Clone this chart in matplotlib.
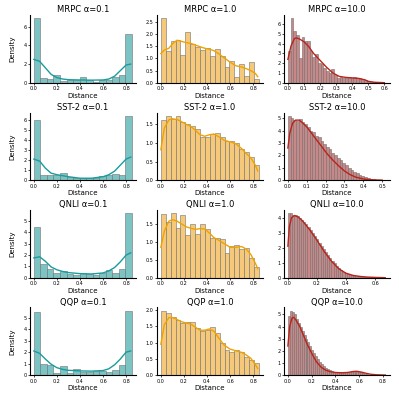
import numpy as np
import matplotlib.pyplot as plt

datasets = ['MRPC', 'SST-2', 'QNLI', 'QQP']
alphas = ['0.1', '1.0', '10.0']

# histogram heights (density), bins start at 0 and end at x_max
mrpc_01 = [6.9, 0.5, 0.4, 0.8, 0.2, 0.3, 0.3, 0.6, 0.3, 0.1, 0.3, 0.3, 0.6, 0.8, 5.2]
sst2_01 = [6.0, 0.5, 0.55, 0.55, 0.75, 0.3, 0.25, 0.2, 0.2, 0.25, 0.45, 0.5, 0.6, 0.55, 6.4]
qnli_01 = [4.5, 1.2, 0.8, 0.45, 0.55, 0.35, 0.25, 0.4, 0.3, 0.25, 0.4, 0.7, 0.45, 0.75, 5.7]
qqp_01 = [5.5, 0.95, 0.85, 0.2, 0.8, 0.2, 0.5, 0.3, 0.3, 0.4, 0.4, 0.3, 0.45, 0.85, 5.6]

mrpc_1 = [2.65, 1.3, 1.7, 1.75, 1.15, 2.07, 1.58, 1.45, 1.33, 1.42,
          1.1, 1.37, 1.1, 0.65, 0.88, 0.25, 0.78, 0.28, 0.85, 0.15]
sst2_1 = [1.63, 1.73, 1.65, 1.72, 1.55, 1.5, 1.45, 1.38, 1.15, 1.17,
          1.25, 1.28, 1.15, 1.05, 1.05, 1.0, 0.85, 0.75, 0.62, 0.4]
qnli_1 = [1.77, 1.55, 1.8, 1.38, 1.75, 1.2, 1.5, 1.22, 1.5, 1.35,
          1.12, 1.1, 1.08, 0.7, 0.88, 0.92, 0.8, 0.82, 0.55, 0.3]
qqp_1 = [1.98, 1.9, 1.8, 1.68, 1.6, 1.62, 1.62, 1.45, 1.35, 1.38,
         1.48, 1.28, 0.98, 0.78, 0.7, 0.78, 0.72, 0.55, 0.48, 0.38]

mrpc_10 = [3.3, 6.6, 5.3, 4.9, 2.55, 4.7, 4.3, 4.3, 3.3, 2.6, 2.95, 2.0, 1.9, 1.55,
           1.25, 1.0, 1.4, 0.75, 0.5, 0.6, 0.45, 0.5, 0.55, 0.5, 0.55, 0.45, 0.5,
           0.35, 0.3, 0.15, 0.08, 0.05, 0.03, 0.02, 0.02, 0.02]
sst2_10 = [5.2, 5.05, 4.85, 4.8, 4.95, 4.7, 4.5, 4.3, 4.0, 3.9, 3.6, 3.45, 3.2, 2.95,
           2.7, 2.5, 2.2, 2.0, 1.8, 1.6, 1.4, 1.2, 1.0, 0.85, 0.7, 0.55, 0.45, 0.35,
           0.25, 0.18, 0.12, 0.08, 0.05, 0.03, 0.02, 0.01]
qnli_10 = [4.3, 4.3, 4.2, 4.15, 4.1, 4.0, 3.85, 3.7, 3.55, 3.35, 3.15, 2.95, 2.75,
           2.55, 2.3, 2.1, 1.9, 1.7, 1.5, 1.3, 1.1, 0.95, 0.8, 0.65, 0.5, 0.4, 0.32,
           0.25, 0.2, 0.15, 0.12, 0.1, 0.08, 0.06, 0.05, 0.04, 0.03, 0.02, 0.02,
           0.01, 0.01, 0.01, 0.01, 0.01, 0.01]
qqp_10 = [4.9, 5.3, 5.2, 5.05, 4.6, 4.3, 4.0, 3.6, 3.3, 3.0, 2.7, 2.4, 2.1, 1.8, 1.55,
          1.3, 1.1, 0.9, 0.75, 0.6, 0.5, 0.4, 0.35, 0.3, 0.25, 0.25, 0.22, 0.2, 0.2,
          0.22, 0.25, 0.28, 0.32, 0.36, 0.38, 0.35, 0.3, 0.22, 0.15, 0.1, 0.07, 0.05,
          0.04, 0.03, 0.03, 0.02, 0.02, 0.01, 0.01, 0.01]

x_max = {'0.1': 0.85, '1.0': 0.85}
x_max_10 = [0.61, 0.52, 0.675, 0.825]

# kde curves
kde_01_x = [0.0, 0.05, 0.1, 0.15, 0.2, 0.25, 0.3, 0.4, 0.5, 0.6, 0.65, 0.7, 0.75, 0.8, 0.84]
mrpc_01_kde = [2.5, 2.3, 1.6, 0.9, 0.55, 0.4, 0.33, 0.3, 0.28, 0.3, 0.4, 0.7, 1.3, 1.9, 2.0]
sst2_01_kde = [2.1, 1.9, 1.2, 0.7, 0.55, 0.45, 0.35, 0.2, 0.2, 0.35, 0.55, 0.9, 1.5, 2.1, 2.3]
qnli_01_kde = [1.75, 1.85, 1.45, 0.95, 0.7, 0.55, 0.45, 0.36, 0.33, 0.42, 0.6, 0.9, 1.4, 2.0, 2.2]
qqp_01_kde = [2.1, 1.9, 1.4, 0.95, 0.65, 0.5, 0.42, 0.37, 0.35, 0.4, 0.55, 0.9, 1.4, 2.0, 2.1]

kde_1_x = [0.0, 0.03, 0.07, 0.1, 0.14, 0.18, 0.22, 0.26, 0.3, 0.34, 0.38, 0.42,
           0.46, 0.5, 0.55, 0.6, 0.65, 0.7, 0.74, 0.78, 0.82, 0.84]
mrpc_1_kde = [1.2, 1.35, 1.42, 1.6, 1.75, 1.7, 1.65, 1.62, 1.55, 1.48, 1.42, 1.38,
              1.32, 1.2, 1.02, 0.85, 0.7, 0.65, 0.58, 0.5, 0.38, 0.25]
sst2_1_kde = [0.82, 1.4, 1.62, 1.65, 1.63, 1.57, 1.5, 1.44, 1.34, 1.22, 1.18, 1.22,
              1.24, 1.17, 1.07, 1.03, 0.98, 0.85, 0.72, 0.6, 0.4, 0.25]
qnli_1_kde = [0.85, 1.3, 1.58, 1.62, 1.58, 1.5, 1.42, 1.38, 1.35, 1.37, 1.36, 1.25,
              1.12, 1.05, 0.95, 0.85, 0.85, 0.87, 0.8, 0.65, 0.4, 0.25]
qqp_1_kde = [0.95, 1.55, 1.77, 1.77, 1.71, 1.64, 1.6, 1.57, 1.47, 1.38, 1.38, 1.42,
             1.35, 1.15, 0.92, 0.8, 0.75, 0.7, 0.62, 0.52, 0.32, 0.2]

mrpc_10_kde_x = [0.0, 0.02, 0.04, 0.05, 0.07, 0.1, 0.13, 0.16, 0.2, 0.24, 0.28,
                 0.32, 0.36, 0.4, 0.44, 0.48, 0.5, 0.54, 0.6]
mrpc_10_kde = [2.4, 3.8, 4.5, 4.6, 4.5, 4.2, 3.7, 3.0, 2.3, 1.6, 1.0, 0.65, 0.55,
               0.5, 0.45, 0.3, 0.15, 0.05, 0.01]
sst2_10_kde_x = [0.0, 0.01, 0.025, 0.04, 0.06, 0.08, 0.1, 0.12, 0.15, 0.18, 0.21,
                 0.24, 0.27, 0.3, 0.33, 0.36, 0.4, 0.45, 0.5]
sst2_10_kde = [2.6, 3.8, 4.6, 4.85, 4.85, 4.6, 4.3, 3.9, 3.3, 2.7, 2.1, 1.6, 1.15,
               0.75, 0.45, 0.25, 0.1, 0.03, 0.01]
qnli_10_kde_x = [0.0, 0.01, 0.025, 0.045, 0.07, 0.1, 0.15, 0.2, 0.25, 0.3, 0.35,
                 0.4, 0.45, 0.5, 0.55, 0.6, 0.67]
qnli_10_kde = [2.1, 3.4, 4.0, 4.15, 4.05, 3.8, 3.2, 2.5, 1.75, 1.1, 0.6, 0.3, 0.15,
               0.08, 0.04, 0.02, 0.0]
qqp_10_kde_x = [0.0, 0.015, 0.035, 0.05, 0.07, 0.1, 0.13, 0.16, 0.2, 0.24, 0.28, 0.32,
                0.36, 0.4, 0.45, 0.5, 0.55, 0.58, 0.62, 0.66, 0.7, 0.75, 0.82]
qqp_10_kde = [2.4, 4.0, 4.7, 4.75, 4.5, 4.0, 3.3, 2.6, 1.8, 1.1, 0.65, 0.4, 0.28,
              0.22, 0.2, 0.22, 0.3, 0.32, 0.25, 0.15, 0.07, 0.03, 0.01]

bars = [[mrpc_01, mrpc_1, mrpc_10], [sst2_01, sst2_1, sst2_10],
        [qnli_01, qnli_1, qnli_10], [qqp_01, qqp_1, qqp_10]]
kdes = [[(kde_01_x, mrpc_01_kde), (kde_1_x, mrpc_1_kde), (mrpc_10_kde_x, mrpc_10_kde)],
        [(kde_01_x, sst2_01_kde), (kde_1_x, sst2_1_kde), (sst2_10_kde_x, sst2_10_kde)],
        [(kde_01_x, qnli_01_kde), (kde_1_x, qnli_1_kde), (qnli_10_kde_x, qnli_10_kde)],
        [(kde_01_x, qqp_01_kde), (kde_1_x, qqp_1_kde), (qqp_10_kde_x, qqp_10_kde)]]

bar_colors = ['#7cc3c3', '#f6c97a', '#c98888']
line_colors = ['#1a9c9c', '#f0a202', '#b8241c']
xticks = [[0.0, 0.2, 0.4, 0.6, 0.8], [0.0, 0.2, 0.4, 0.6, 0.8]]
xticks_10 = [np.arange(0, 0.61, 0.1), np.arange(0, 0.51, 0.1),
             [0.0, 0.2, 0.4, 0.6], [0.0, 0.2, 0.4, 0.6, 0.8]]

fig, axes = plt.subplots(4, 3, figsize=(3.99, 3.97), dpi=100)
fig.subplots_adjust(left=0.075, right=0.977, bottom=0.055, top=0.962,
                    wspace=0.2, hspace=0.44)

for r in range(4):
    for c in range(3):
        ax = axes[r, c]
        h = np.array(bars[r][c])
        xm = x_max_10[r] if c == 2 else 0.85
        edges = np.linspace(0, xm, len(h) + 1)
        ax.bar(edges[:-1], h, width=np.diff(edges), align='edge',
               color=bar_colors[c], edgecolor='#707070', linewidth=0.4)
        kx, ky = kdes[r][c]
        ax.plot(kx, ky, color=line_colors[c], lw=1.0)
        ax.set_title(f'{datasets[r]} \u03b1={alphas[c]}', fontsize=6, pad=2)
        ax.set_xlabel('Distance', fontsize=5, labelpad=1)
        if c == 0:
            ax.set_ylabel('Density', fontsize=5, labelpad=6)
        ax.set_xticks(xticks_10[r] if c == 2 else xticks[0])
        ax.set_xticklabels([f'{t:.1f}' for t in (xticks_10[r] if c == 2 else xticks[0])])
        ax.set_xlim(-xm * 0.04, xm * 1.04)
        ax.set_ylim(0, h.max() * 1.05)
        ax.tick_params(labelsize=3.5, length=1.5, width=0.5, pad=1)
        for s in ['top', 'right']:
            ax.spines[s].set_visible(False)
        for s in ['left', 'bottom']:
            ax.spines[s].set_linewidth(0.8)

# integer y ticks for the alpha 0.1 column
for r in range(4):
    axes[r, 0].yaxis.set_major_locator(plt.MultipleLocator(1 if r > 0 else 2))
    axes[r, 2].yaxis.set_major_locator(plt.MultipleLocator(1))
    axes[r, 1].yaxis.set_major_locator(plt.MultipleLocator(0.5))
    axes[r, 1].yaxis.set_major_formatter(plt.FormatStrFormatter('%.1f'))

fig.savefig('out.png', dpi=100)
